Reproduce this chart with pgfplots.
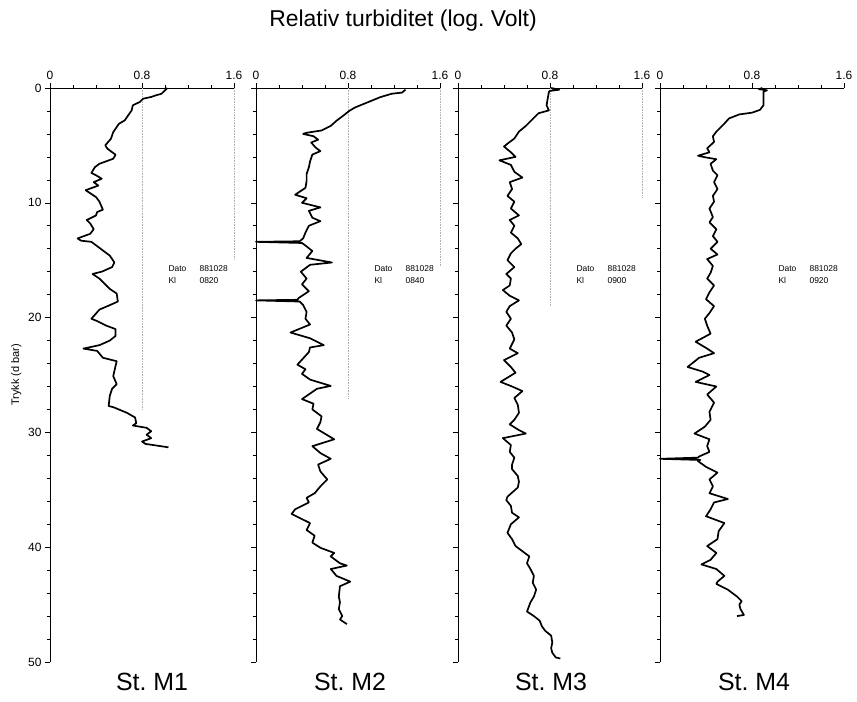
\documentclass[border=0pt]{standalone}
\usepackage{fontspec}
\setmainfont{Liberation Sans}
\usepackage{pgfplots}
\pgfplotsset{compat=1.18}
\frenchspacing

% one CTD profile panel: turbidity across, pressure down
\pgfplotsset{
  panel/.style={
    scale only axis, width=184bp, height=574bp,
    anchor=south west,
    xmin=0, xmax=1.6, ymin=0, ymax=50, y dir=reverse,
    axis x line=top, axis y line=left,
    axis line style={-, line width=0.7bp},
    every outer x axis line/.append style={-},
    every outer y axis line/.append style={-},
    xtick={0,0.8,1.6}, minor xtick={0.2,0.4,0.6,1.0,1.2,1.4},
    ytick={0,10,...,50}, minor ytick={2,4,...,48},
    tick align=outside,
    tick style={black, line width=0.6bp},
    major tick length=5bp, minor tick length=3bp,
    ticklabel style={font=\fontsize{12}{14}\selectfont},
    /pgf/number format/assume math mode=true,
    clip=false,
  },
}
\tikzset{
  trace/.style={black, line width=1.7bp, line join=round},
  grid80/.style={gray!60, densely dotted, line width=0.6bp},
}

\newcommand{\dato}[1]{%
  \node[anchor=west, font=\fontsize{8.5}{10}\selectfont] at (axis cs:1.0,15.7) {Dato};
  \node[anchor=west, font=\fontsize{8.5}{10}\selectfont] at (axis cs:1.27,15.7) {881028};
  \node[anchor=west, font=\fontsize{8.5}{10}\selectfont] at (axis cs:1.0,16.8) {Kl};
  \node[anchor=west, font=\fontsize{8.5}{10}\selectfont] at (axis cs:1.27,16.8) {#1};
}

\begin{document}
\begin{tikzpicture}
\path[use as bounding box] (0,0) rectangle (857bp,702bp);

\node[font=\fontsize{23}{27}\selectfont] at (403bp,681bp) {Relativ turbiditet (log. Volt)};

% St. M1
\begin{axis}[panel, at={(50bp,40bp)},
  ylabel={Trykk (d bar)}, ylabel style={font=\fontsize{11}{13}\selectfont}]
\draw[grid80] (axis cs:0.8,0) -- (axis cs:0.8,28);
\draw[grid80] (axis cs:1.6,0) -- (axis cs:1.6,15);
\addplot[trace] coordinates {
(1.02,0) (1.00,0.2) (0.97,0.5) (0.92,0.64) (0.88,0.78) (0.81,0.93) (0.78,1.22)
(0.72,1.51) (0.71,1.95) (0.68,2.38) (0.65,2.82) (0.60,3.11) (0.58,3.40) (0.55,3.84)
(0.53,4.42) (0.48,5.0) (0.50,5.29) (0.57,5.81) (0.55,6.16) (0.43,6.6) (0.39,6.9)
(0.36,7.4) (0.40,7.6) (0.45,7.9) (0.38,8.2) (0.42,8.5) (0.31,8.9) (0.34,9.1)
(0.40,9.5) (0.43,9.9) (0.46,10.6) (0.41,10.8) (0.40,11.1) (0.32,11.5) (0.35,11.8)
(0.38,12.3) (0.35,12.7) (0.24,13.1) (0.27,13.3) (0.36,13.4) (0.44,14.0) (0.52,14.6)
(0.56,15.2) (0.54,15.6) (0.45,16.0) (0.37,16.2) (0.43,16.6) (0.46,16.9) (0.52,17.5)
(0.58,17.9) (0.59,18.6) (0.50,19.0) (0.43,19.3) (0.36,20.1) (0.41,20.3) (0.49,20.7)
(0.57,21.0) (0.57,21.6) (0.52,22.0) (0.43,22.4) (0.29,22.7) (0.41,22.9) (0.46,23.5)
(0.58,23.8) (0.57,24.2) (0.55,25.1) (0.58,25.8) (0.54,26.2) (0.52,26.8) (0.51,27.7)
(0.55,27.8) (0.67,28.3) (0.74,28.7) (0.75,29.2) (0.72,29.4) (0.84,29.6) (0.88,29.9)
(0.84,30.2) (0.88,30.5) (0.80,30.8) (0.83,31.0) (1.03,31.3)
};
\dato{0820}
\end{axis}

% St. M2
\begin{axis}[panel, at={(256bp,40bp)}, yticklabels={}]
\draw[grid80] (axis cs:0.8,0) -- (axis cs:0.8,27);
\draw[grid80] (axis cs:1.6,0) -- (axis cs:1.6,15.5);
\addplot[trace] coordinates {
(1.30,0.15) (1.27,0.4) (1.18,0.5) (1.08,0.8) (0.97,1.25) (0.86,1.7) (0.81,2.0)
(0.76,2.4) (0.70,2.85) (0.65,3.3) (0.57,3.7) (0.44,3.9) (0.41,4.0) (0.50,4.2)
(0.54,4.5) (0.48,4.75) (0.52,5.2) (0.56,5.5) (0.49,5.8) (0.47,6.4) (0.46,6.9)
(0.44,7.5) (0.44,8.1) (0.43,8.7) (0.34,9.3) (0.44,9.6) (0.40,10.0) (0.56,10.4)
(0.46,10.7) (0.49,11.3) (0.56,11.6) (0.46,12.0) (0.43,12.6) (0.41,13.1) (0.38,13.35)
(0,13.4) (0.40,13.5) (0.44,13.8) (0.49,14.2) (0.44,14.8) (0.66,15.2) (0.47,15.4)
(0.39,16.0) (0.44,16.6) (0.40,17.1) (0.46,17.7) (0.37,18.3) (0.36,18.45) (0,18.5)
(0.38,18.6) (0.41,18.9) (0.44,19.5) (0.43,20.1) (0.47,20.6) (0.30,21.3) (0.47,21.8)
(0.59,22.4) (0.47,22.6) (0.46,23.0) (0.36,24.1) (0.43,24.5) (0.40,24.9) (0.47,25.4)
(0.65,25.95) (0.53,26.2) (0.40,27.1) (0.50,27.5) (0.49,28.0) (0.57,28.6) (0.56,29.1)
(0.53,29.7) (0.68,30.6) (0.49,31.2) (0.56,31.8) (0.65,32.3) (0.54,32.8) (0.56,33.4)
(0.62,34.1) (0.56,34.7) (0.51,35.3) (0.44,35.7) (0.46,36.1) (0.34,36.7) (0.31,37.1)
(0.41,37.6) (0.47,37.9) (0.44,38.5) (0.51,39.0) (0.49,39.6) (0.56,40.05) (0.68,40.5)
(0.65,40.8) (0.73,41.4) (0.79,41.6) (0.65,41.9) (0.70,42.5) (0.82,43.0) (0.73,43.4)
(0.72,44.3) (0.73,44.8) (0.72,45.4) (0.75,46.0) (0.73,46.3) (0.79,46.7)
};
\dato{0840}
\end{axis}

% St. M3
\begin{axis}[panel, at={(458bp,40bp)}, yticklabels={}]
\draw[grid80] (axis cs:0.8,0) -- (axis cs:0.8,19);
\draw[grid80] (axis cs:1.6,0) -- (axis cs:1.6,9.5);
\addplot[trace] coordinates {
(0.81,0) (0.88,0.15) (0.80,0.25) (0.79,0.35) (0.78,0.93) (0.77,1.5) (0.79,1.95)
(0.70,2.2) (0.65,2.7) (0.59,3.3) (0.53,3.8) (0.49,4.4) (0.43,4.85) (0.40,5.1)
(0.46,5.6) (0.50,6.0) (0.36,6.3) (0.46,6.7) (0.49,7.3) (0.56,7.8) (0.45,8.2)
(0.47,8.8) (0.43,9.4) (0.49,9.9) (0.46,10.5) (0.53,11.1) (0.45,11.5) (0.49,12.0)
(0.46,12.6) (0.52,13.1) (0.55,13.6) (0.50,14.0) (0.46,14.4) (0.43,15.0) (0.49,15.6)
(0.42,16.2) (0.46,16.6) (0.45,17.2) (0.39,17.6) (0.45,18.1) (0.53,18.5) (0.45,19.0)
(0.42,19.5) (0.46,20.1) (0.42,20.7) (0.47,21.3) (0.49,21.9) (0.45,22.7) (0.52,23.1)
(0.40,23.7) (0.46,24.3) (0.50,24.8) (0.37,25.6) (0.47,26.0) (0.56,26.4) (0.49,27.0)
(0.52,27.6) (0.53,28.3) (0.49,28.9) (0.45,29.3) (0.53,29.8) (0.59,30.1) (0.39,30.5)
(0.46,31.1) (0.45,31.7) (0.49,32.2) (0.47,32.8) (0.47,33.2) (0.52,33.8) (0.53,34.3)
(0.52,34.8) (0.43,35.6) (0.42,35.9) (0.46,36.4) (0.47,37.0) (0.53,37.4) (0.46,38.0)
(0.43,38.75) (0.47,39.3) (0.50,39.9) (0.58,40.5) (0.62,40.8) (0.60,41.4) (0.63,41.9)
(0.66,42.5) (0.65,43.1) (0.68,43.7) (0.66,44.3) (0.63,44.8) (0.60,45.6) (0.66,46.0)
(0.71,46.4) (0.73,46.9) (0.76,47.3) (0.81,47.7) (0.82,48.3) (0.81,48.8) (0.82,49.2)
(0.85,49.6) (0.89,49.7)
};
\dato{0900}
\end{axis}

% St. M4
\begin{axis}[panel, at={(660bp,40bp)}, yticklabels={}]
\addplot[trace] coordinates {
(0.89,0) (0.86,0.1) (0.93,0.2) (0.90,0.32) (0.90,0.9) (0.90,1.5) (0.87,1.9)
(0.80,2.15) (0.69,2.3) (0.60,2.65) (0.56,3.1) (0.49,3.8) (0.46,4.2) (0.47,4.7)
(0.41,5.25) (0.43,5.6) (0.33,5.9) (0.40,6.05) (0.49,6.2) (0.44,6.6) (0.46,7.2)
(0.50,7.6) (0.47,8.2) (0.50,8.8) (0.46,9.4) (0.47,9.9) (0.43,10.5) (0.46,11.25)
(0.43,11.7) (0.49,12.3) (0.46,12.9) (0.50,13.4) (0.44,14.0) (0.50,14.5) (0.41,14.9)
(0.46,15.5) (0.44,16.1) (0.41,16.6) (0.47,17.2) (0.43,17.8) (0.40,18.4) (0.47,19.0)
(0.43,19.6) (0.39,20.1) (0.41,20.7) (0.44,21.4) (0.31,22.1) (0.41,22.7) (0.47,23.1)
(0.34,23.5) (0.24,24.3) (0.37,24.7) (0.43,25.0) (0.31,25.6) (0.49,26.0) (0.41,26.7)
(0.47,27.4) (0.43,28.2) (0.44,28.9) (0.39,29.5) (0.30,30.1) (0.43,30.6) (0.41,31.2)
(0.43,31.7) (0.34,32.1) (0.33,32.2) (0,32.3) (0.35,32.4) (0.33,32.5) (0.40,33.0)
(0.50,33.5) (0.43,34.1) (0.46,34.7) (0.43,35.3) (0.59,35.8) (0.47,36.1) (0.44,36.7)
(0.40,37.3) (0.56,37.9) (0.51,38.6) (0.50,39.3) (0.41,39.9) (0.49,40.5) (0.44,41.1)
(0.36,41.5) (0.49,41.9) (0.56,42.5) (0.50,43.0) (0.49,43.2) (0.59,43.7) (0.67,44.3)
(0.71,44.7) (0.69,45.0) (0.70,45.4) (0.73,45.9) (0.67,46.0)
};
\dato{0920}
\end{axis}

\node[font=\fontsize{25}{29}\selectfont] at (152bp,20bp) {St. M1};
\node[font=\fontsize{25}{29}\selectfont] at (350bp,20bp) {St. M2};
\node[font=\fontsize{25}{29}\selectfont] at (551bp,20bp) {St. M3};
\node[font=\fontsize{25}{29}\selectfont] at (754bp,20bp) {St. M4};
\end{tikzpicture}
\end{document}
